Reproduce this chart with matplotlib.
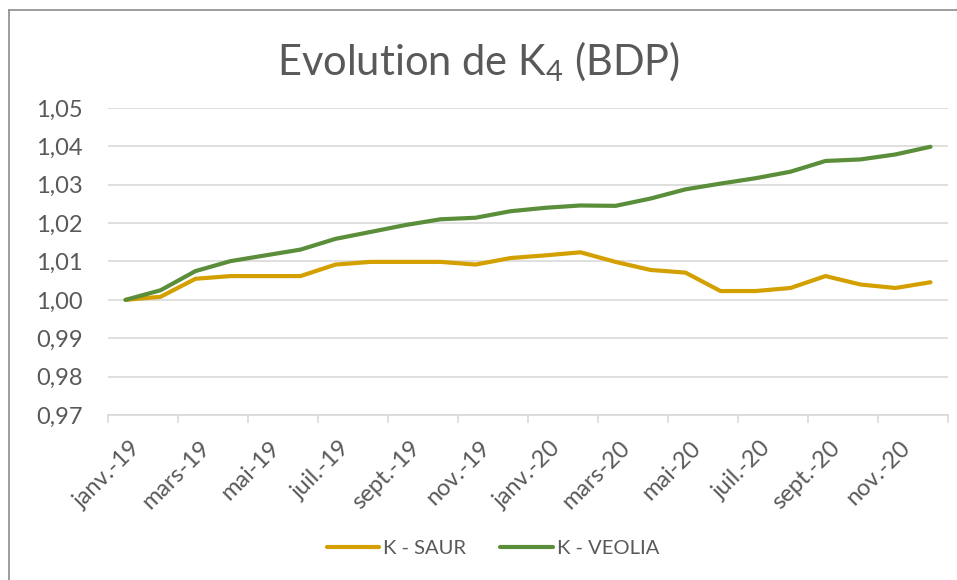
import matplotlib.pyplot as plt
import numpy as np
from matplotlib.lines import Line2D
from matplotlib.transforms import ScaledTranslation

# donnees mensuelles janv.-19 -> dec.-20
mois = ['janv.-19', 'févr.-19', 'mars-19', 'avr.-19', 'mai-19', 'juin-19',
        'juil.-19', 'août-19', 'sept.-19', 'oct.-19', 'nov.-19', 'déc.-19',
        'janv.-20', 'févr.-20', 'mars-20', 'avr.-20', 'mai-20', 'juin-20',
        'juil.-20', 'août-20', 'sept.-20', 'oct.-20', 'nov.-20', 'déc.-20']
k_saur = [1.0000, 1.0008, 1.0055, 1.0062, 1.0062, 1.0062, 1.0092, 1.0099,
          1.0099, 1.0099, 1.0092, 1.0109, 1.0116, 1.0124, 1.0099, 1.0078,
          1.0071, 1.0023, 1.0023, 1.0031, 1.0062, 1.0040, 1.0031, 1.0046]
k_veolia = [1.0000, 1.0025, 1.0075, 1.0101, 1.0116, 1.0131, 1.0159, 1.0177,
            1.0195, 1.0210, 1.0214, 1.0231, 1.0240, 1.0246, 1.0245, 1.0264,
            1.0288, 1.0303, 1.0317, 1.0334, 1.0362, 1.0366, 1.0379, 1.0399]
y_ticks = [0.97, 0.98, 0.99, 1.00, 1.01, 1.02, 1.03, 1.04, 1.05]

plt.rcParams['font.family'] = ['Lato', 'DejaVu Sans']
plt.rcParams['mathtext.fontset'] = 'custom'
plt.rcParams['mathtext.rm'] = 'Lato'
plt.rcParams['mathtext.it'] = 'Lato'
gris = '#595959'

fig = plt.figure(figsize=(9.57, 5.8), dpi=100)
ax = fig.add_axes([108/957, 1-415/580, 840/957, 307/580])

x = np.arange(len(mois))
ax.plot(x, k_saur, color='#D4A000', lw=3, solid_capstyle='round', label='K - SAUR')
ax.plot(x, k_veolia, color='#5B8E3A', lw=3, solid_capstyle='round', label='K - VEOLIA')

ax.set_xlim(-0.5, len(mois)-0.5)
ax.set_ylim(0.97, 1.05)
ax.set_yticks(y_ticks)
ax.set_yticklabels([('%.2f' % v).replace('.', ',') for v in y_ticks])
ax.yaxis.grid(True, color='#D9D9D9', lw=1.2)
ax.set_axisbelow(True)
ax.tick_params(axis='y', length=0, labelsize=17, labelcolor=gris, pad=18)

ax.set_xticks(x[::2])
ax.set_xticklabels(mois[::2], rotation=45, ha='right', rotation_mode='anchor')
ax.set_xticks(np.arange(-0.5, len(mois), 2), minor=True)
ax.tick_params(axis='x', which='major', length=0, labelsize=17, labelcolor=gris, pad=16)
ax.tick_params(axis='x', which='minor', length=6, color='#D9D9D9', width=1.2)
decal = ScaledTranslation(4/100, 0, fig.dpi_scale_trans)
for lab in ax.get_xticklabels():
    lab.set_transform(lab.get_transform() + decal)

for s in ['top', 'right', 'left']:
    ax.spines[s].set_visible(False)
ax.spines['bottom'].set_color('#D9D9D9')
ax.spines['bottom'].set_linewidth(1.2)

fig.text(0.5, 1-62/580, 'Evolution de K$_{\\mathregular{4}}$ (BDP)', ha='center', va='center',
         fontsize=30, color=gris)

fig.legend(loc='center', bbox_to_anchor=(0.515, 1-548/580), ncol=2, frameon=False,
           fontsize=14.5, labelcolor=gris, handlelength=2.6, columnspacing=1.7,
           handletextpad=0.2)

# bordure du cadre (haut et gauche)
fig.add_artist(Line2D([9/957, 9/957], [0, 1-10/580], color='#8C8C8C', lw=1.2))
fig.add_artist(Line2D([9/957, 1], [1-10/580, 1-10/580], color='#8C8C8C', lw=1.2))

fig.savefig('out.png', dpi=100)
